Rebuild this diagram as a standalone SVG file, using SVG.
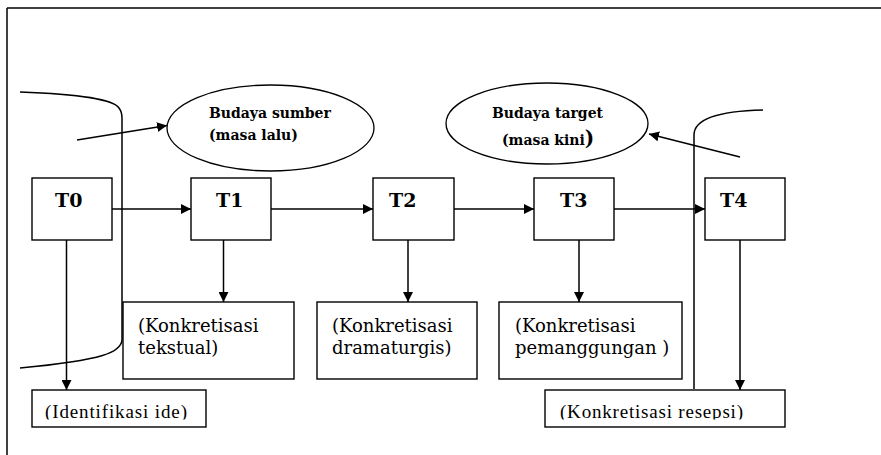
<svg xmlns="http://www.w3.org/2000/svg" width="881" height="455" viewBox="0 0 881 455">
<style>
.box{fill:#fff;stroke:#000;stroke-width:1.4}
.ln{fill:none;stroke:#000;stroke-width:1.5}
.ell{fill:#fff;stroke:#000;stroke-width:1.3}
.t{font-family:"DejaVu Serif","Liberation Serif",serif;font-weight:bold;font-size:19px;fill:#000}
.eb{font-family:"DejaVu Serif","Liberation Serif",serif;font-weight:bold;font-size:14px;fill:#000}
.k{font-family:"DejaVu Serif","Liberation Serif",serif;font-size:18px;fill:#000}
.tm{font-family:"Liberation Serif","Times New Roman",serif;font-size:19px;fill:#000}
</style>
<defs>
<marker id="ah" viewBox="0 0 10 10" refX="10" refY="5" markerWidth="10" markerHeight="10" markerUnits="userSpaceOnUse" orient="auto">
<path d="M0,0 L10,5 L0,10 z" fill="#000"/>
</marker>
<clipPath id="cutL"><rect x="0" y="380" width="881" height="39.5"/></clipPath>
</defs>
<rect width="881" height="455" fill="#fff"/>
<g id="frame">
<line x1="7" y1="8" x2="881" y2="8" stroke="#000" stroke-width="1.5"/>
<line x1="7" y1="8" x2="7" y2="455" stroke="#000" stroke-width="1.5"/>
</g>
<g id="brackets">
<path class="ln" d="M20,92 C80,94 114,100 119,108 Q122,112 122,118 L122,340 C121,352 105,360 20,368"/>
<path class="ln" d="M763,110 C720,111 694,118 694,135 L694,389"/>
</g>
<g id="ell-sumber">
<ellipse class="ell" cx="270.5" cy="128" rx="103.5" ry="43"/>
<text class="eb" x="209" y="118">Budaya sumber</text>
<text class="eb" x="209" y="140">(masa lalu)</text>
</g>
<g id="ell-target">
<ellipse class="ell" cx="547" cy="123.5" rx="101" ry="40.5"/>
<text class="eb" x="492" y="118">Budaya target</text>
<text class="eb" x="502" y="145">(masa kini<tspan font-size="20">)</tspan></text>
</g>
<g id="T0"><rect class="box" x="32" y="178" width="80" height="62"/><text class="t" x="55" y="207">T0</text></g>
<g id="T1"><rect class="box" x="191" y="178" width="80" height="62"/><text class="t" x="216" y="207">T1</text></g>
<g id="T2"><rect class="box" x="373" y="178" width="81" height="62"/><text class="t" x="389" y="207">T2</text></g>
<g id="T3"><rect class="box" x="534" y="178" width="80" height="62"/><text class="t" x="560" y="207">T3</text></g>
<g id="T4"><rect class="box" x="705" y="178" width="80" height="62"/><text class="t" x="720" y="207">T4</text></g>
<g id="tekstual"><rect class="box" x="123" y="302" width="171" height="77"/><text class="k" x="138" y="332">(Konkretisasi</text><text class="k" x="138" y="354">tekstual)</text></g>
<g id="dramaturgis"><rect class="box" x="317" y="302" width="160" height="77"/><text class="k" x="332" y="332">(Konkretisasi</text><text class="k" x="332" y="354">dramaturgis)</text></g>
<g id="pemanggungan"><rect class="box" x="499" y="302" width="183" height="77"/><text class="k" x="515" y="332">(Konkretisasi</text><text class="k" x="515" y="354">pemanggungan )</text></g>
<g id="identifikasi"><rect class="box" x="32" y="390" width="174" height="37"/><text class="tm" x="45" y="418" textLength="142" lengthAdjust="spacing" clip-path="url(#cutL)">(Identifikasi ide)</text></g>
<g id="resepsi"><rect class="box" x="545" y="390" width="240" height="37"/><text class="tm" x="560" y="418" textLength="183" lengthAdjust="spacing" clip-path="url(#cutL)">(Konkretisasi resepsi)</text></g>
<g id="connectors">
<line class="ln" x1="112" y1="209" x2="191" y2="209" marker-end="url(#ah)"/>
<line class="ln" x1="271" y1="209" x2="373" y2="209" marker-end="url(#ah)"/>
<line class="ln" x1="454" y1="209" x2="534" y2="209" marker-end="url(#ah)"/>
<line class="ln" x1="614" y1="209" x2="705" y2="209" marker-end="url(#ah)"/>
<line class="ln" x1="66.5" y1="240" x2="66.5" y2="390" marker-end="url(#ah)"/>
<line class="ln" x1="223.5" y1="240" x2="223.5" y2="302" marker-end="url(#ah)"/>
<line class="ln" x1="408" y1="240" x2="408" y2="302" marker-end="url(#ah)"/>
<line class="ln" x1="579" y1="240" x2="579" y2="302" marker-end="url(#ah)"/>
<line class="ln" x1="740" y1="240" x2="740" y2="390" marker-end="url(#ah)"/>
<line class="ln" x1="77" y1="140" x2="167" y2="125.5" marker-end="url(#ah)"/>
<line class="ln" x1="740" y1="157" x2="649" y2="134" marker-end="url(#ah)"/>
</g>
</svg>
